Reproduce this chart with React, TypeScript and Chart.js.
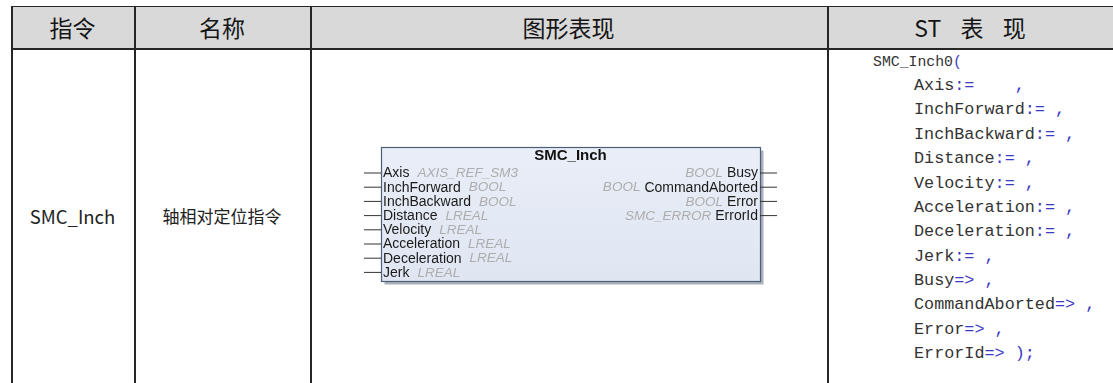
import React, { useEffect, useRef } from 'react';
import { Chart, registerables } from 'chart.js';

Chart.register(...registerables);

// ---- data ----
const headerLabels = ['指令', '名称', '图形表现', 'ST 表 现'];
const instructionName = 'SMC_Inch';
const instructionDesc = '轴相对定位指令';
const blockTitle = 'SMC_Inch';
const instanceName = 'SMC_Inch0';
const inputPins = ['Axis', 'InchForward', 'InchBackward', 'Distance', 'Velocity', 'Acceleration', 'Deceleration', 'Jerk'];
const inputTypes = ['AXIS_REF_SM3', 'BOOL', 'BOOL', 'LREAL', 'LREAL', 'LREAL', 'LREAL', 'LREAL'];
const outputPins = ['Busy', 'CommandAborted', 'Error', 'ErrorId'];
const outputTypes = ['BOOL', 'BOOL', 'BOOL', 'SMC_ERROR'];
const inputGaps = [4, 1, 1, 1, 1, 1, 1, 1];

// ---- layout ----
const COLS = [11, 134, 310, 827, 1113];
const TOP = 6;
const HEAD_BOTTOM = 48;
const LINE = '#262626';

const CANVAS_LEFT = 362;
const CANVAS_TOP = 140;
const CANVAS_W = 418;
const CANVAS_H = 150;
const BOX_W = 379;
const ROW_PX = 14.2;
const PIN_LEN = 17 / BOX_W;
const X_MIN = -19 / BOX_W;
const X_MAX = (CANVAS_W - 19) / BOX_W;
const Y_MIN = 1 - 33 / ROW_PX;
const Y_MAX = 1 + (CANVAS_H - 33) / ROW_PX;
const BOX_TOP_ROW = 1 - 26 / ROW_PX;
const BOX_BOTTOM_ROW = inputPins.length + 9 / ROW_PX;
const TITLE_ROW = 1 - 17.5 / ROW_PX;
const FB_FONT = '"Liberation Sans", Arial, sans-serif';

const blockPlugin = {
  id: 'fbBlock',
  beforeDatasetsDraw(chart: any) {
    const { ctx } = chart;
    const xs = chart.scales.x;
    const ys = chart.scales.y;
    const x0 = Math.round(xs.getPixelForValue(0)) + 0.5;
    const x1 = Math.round(xs.getPixelForValue(1)) + 0.5;
    const y0 = Math.round(ys.getPixelForValue(BOX_TOP_ROW)) + 0.5;
    const y1 = Math.round(ys.getPixelForValue(BOX_BOTTOM_ROW)) + 0.5;
    ctx.save();
    ctx.fillStyle = '#a9b0ba';
    ctx.fillRect(x0 + 3, y0 + 3, x1 - x0, y1 - y0);
    const g = ctx.createLinearGradient(0, y0, 0, y1);
    g.addColorStop(0, '#e9eef7');
    g.addColorStop(1, '#dfe6f2');
    ctx.fillStyle = g;
    ctx.fillRect(x0, y0, x1 - x0, y1 - y0);
    ctx.strokeStyle = '#4d5f78';
    ctx.lineWidth = 1.2;
    ctx.strokeRect(x0, y0, x1 - x0, y1 - y0);
    ctx.restore();
  },
  afterDatasetsDraw(chart: any) {
    const { ctx } = chart;
    const xs = chart.scales.x;
    const ys = chart.scales.y;
    ctx.save();
    ctx.textBaseline = 'middle';
    ctx.font = `bold 15px ${FB_FONT}`;
    ctx.fillStyle = '#111';
    ctx.textAlign = 'center';
    ctx.fillText(blockTitle, xs.getPixelForValue(0.5), ys.getPixelForValue(TITLE_ROW));
    ctx.textAlign = 'left';
    const xl = xs.getPixelForValue(0) + 2;
    inputPins.forEach((p, i) => {
      const y = ys.getPixelForValue(i + 1) + 0.5;
      ctx.font = `14px ${FB_FONT}`;
      ctx.fillStyle = '#1a1a1a';
      ctx.fillText(p, xl, y);
      const w = ctx.measureText(p).width;
      ctx.font = `italic 13.5px ${FB_FONT}`;
      ctx.fillStyle = '#adadad';
      ctx.fillText(inputTypes[i], xl + w + 8, y);
    });
    ctx.textAlign = 'right';
    const xr = xs.getPixelForValue(1) - 2;
    outputPins.forEach((p, i) => {
      const y = ys.getPixelForValue(i + 1) + 0.5;
      ctx.font = `14px ${FB_FONT}`;
      ctx.fillStyle = '#1a1a1a';
      ctx.fillText(p, xr, y);
      const w = ctx.measureText(p).width;
      ctx.font = `italic 13.5px ${FB_FONT}`;
      ctx.fillStyle = '#adadad';
      ctx.fillText(outputTypes[i], xr - w - 4, y);
    });
    ctx.restore();
  },
};

function FunctionBlock() {
  const ref = useRef<HTMLCanvasElement | null>(null);
  useEffect(() => {
    if (!ref.current) return;
    const datasets: any[] = [];
    inputPins.forEach((p, i) => {
      datasets.push({
        label: p,
        data: [{ x: -PIN_LEN, y: i + 1 }, { x: 0, y: i + 1 }],
        borderColor: '#333',
        borderWidth: 1,
        pointRadius: 0,
      });
    });
    outputPins.forEach((p, i) => {
      datasets.push({
        label: p,
        data: [{ x: 1, y: i + 1 }, { x: 1 + PIN_LEN, y: i + 1 }],
        borderColor: '#333',
        borderWidth: 1,
        pointRadius: 0,
      });
    });
    const chart = new Chart(ref.current, {
      type: 'line',
      data: { datasets },
      options: {
        animation: false,
        responsive: false,
        maintainAspectRatio: false,
        devicePixelRatio: 1,
        events: [],
        layout: { padding: 0 },
        plugins: { legend: { display: false }, tooltip: { enabled: false } },
        scales: {
          x: { type: 'linear', display: false, min: X_MIN, max: X_MAX },
          y: { type: 'linear', display: false, min: Y_MIN, max: Y_MAX, reverse: true },
        },
      },
      plugins: [blockPlugin],
    } as any);
    return () => chart.destroy();
  }, []);
  return (
    <canvas
      ref={ref}
      width={CANVAS_W}
      height={CANVAS_H}
      style={{ position: 'absolute', left: CANVAS_LEFT, top: CANVAS_TOP, width: CANVAS_W, height: CANVAS_H }}
    />
  );
}

const CJK = '"Noto Sans CJK SC", "Noto Sans", sans-serif';
const MONO = '"Liberation Mono", "DejaVu Sans Mono", monospace';
const BLUE = '#3a3ac4';
const CODE_TXT = '#333333';

function CodeBlock() {
  const lineH = 24.35;
  const lines: React.ReactNode[] = [];
  lines.push(
    <div key="first" style={{ height: lineH, lineHeight: `${lineH}px`, fontSize: 14.8 }}>
      <span style={{ color: CODE_TXT }}>{instanceName}</span>
      <span style={{ color: BLUE }}>(</span>
    </div>
  );
  inputPins.forEach((p, i) => {
    lines.push(
      <div key={'i' + p} style={{ height: lineH, lineHeight: `${lineH}px`, paddingLeft: 41, whiteSpace: 'pre' }}>
        <span style={{ color: CODE_TXT }}>{p}</span>
        <span style={{ color: BLUE }}>{':=' + ' '.repeat(inputGaps[i]) + ','}</span>
      </div>
    );
  });
  outputPins.forEach((p, i) => {
    const last = i === outputPins.length - 1;
    lines.push(
      <div key={'o' + p} style={{ height: lineH, lineHeight: `${lineH}px`, paddingLeft: 41, whiteSpace: 'pre' }}>
        <span style={{ color: CODE_TXT }}>{p}</span>
        <span style={{ color: BLUE }}>{last ? '=> );' : '=> ,'}</span>
      </div>
    );
  });
  return (
    <div
      style={{
        position: 'absolute',
        left: 869,
        top: 49.8,
        width: 240,
        background: '#fff',
        fontFamily: MONO,
        fontSize: 16.8,
        paddingLeft: 4,
      }}
    >
      {lines}
    </div>
  );
}

export default function App() {
  const hLine = (y: number, x0: number, x1: number, w: number) => (
    <div key={`h${y}`} style={{ position: 'absolute', left: x0, top: y, width: x1 - x0, height: w, background: LINE }} />
  );
  const vLine = (x: number) => (
    <div key={`v${x}`} style={{ position: 'absolute', left: x, top: TOP, width: 1.5, height: 383 - TOP, background: LINE }} />
  );
  return (
    <div
      style={{
        position: 'fixed',
        left: 0,
        top: 0,
        width: 1113,
        height: 383,
        background: '#fff',
        overflow: 'hidden',
        fontFamily: CJK,
      }}
    >
      <div style={{ position: 'absolute', left: COLS[0], top: TOP, width: 1113 - COLS[0], height: HEAD_BOTTOM - TOP, background: '#d9d9d9' }} />
      {headerLabels.map((t, i) => (
        <div
          key={t}
          style={{
            position: 'absolute',
            left: COLS[i],
            top: TOP,
            width: COLS[i + 1] - COLS[i],
            height: HEAD_BOTTOM - TOP,
            lineHeight: `${HEAD_BOTTOM - TOP + 1}px`,
            textAlign: 'center',
            fontSize: 23,
            color: '#151515',
            wordSpacing: 14,
            whiteSpace: 'pre',
          }}
        >
          {t}
        </div>
      ))}
      <div
        style={{
          position: 'absolute',
          left: COLS[0],
          top: HEAD_BOTTOM,
          width: COLS[1] - COLS[0],
          height: 336,
          lineHeight: '336px',
          textAlign: 'center',
          fontSize: 18.5,
          color: '#222',
        }}
      >
        {instructionName}
      </div>
      <div
        style={{
          position: 'absolute',
          left: COLS[1],
          top: HEAD_BOTTOM,
          width: COLS[2] - COLS[1],
          height: 336,
          lineHeight: '336px',
          textAlign: 'center',
          fontSize: 17,
          color: '#222',
        }}
      >
        {instructionDesc}
      </div>
      <FunctionBlock />
      <CodeBlock />
      {hLine(TOP - 0.5, COLS[0], 1113, 1.5)}
      {hLine(HEAD_BOTTOM - 0.5, COLS[0], 1113, 2)}
      {COLS.slice(0, 4).map((x) => vLine(x))}
    </div>
  );
}
